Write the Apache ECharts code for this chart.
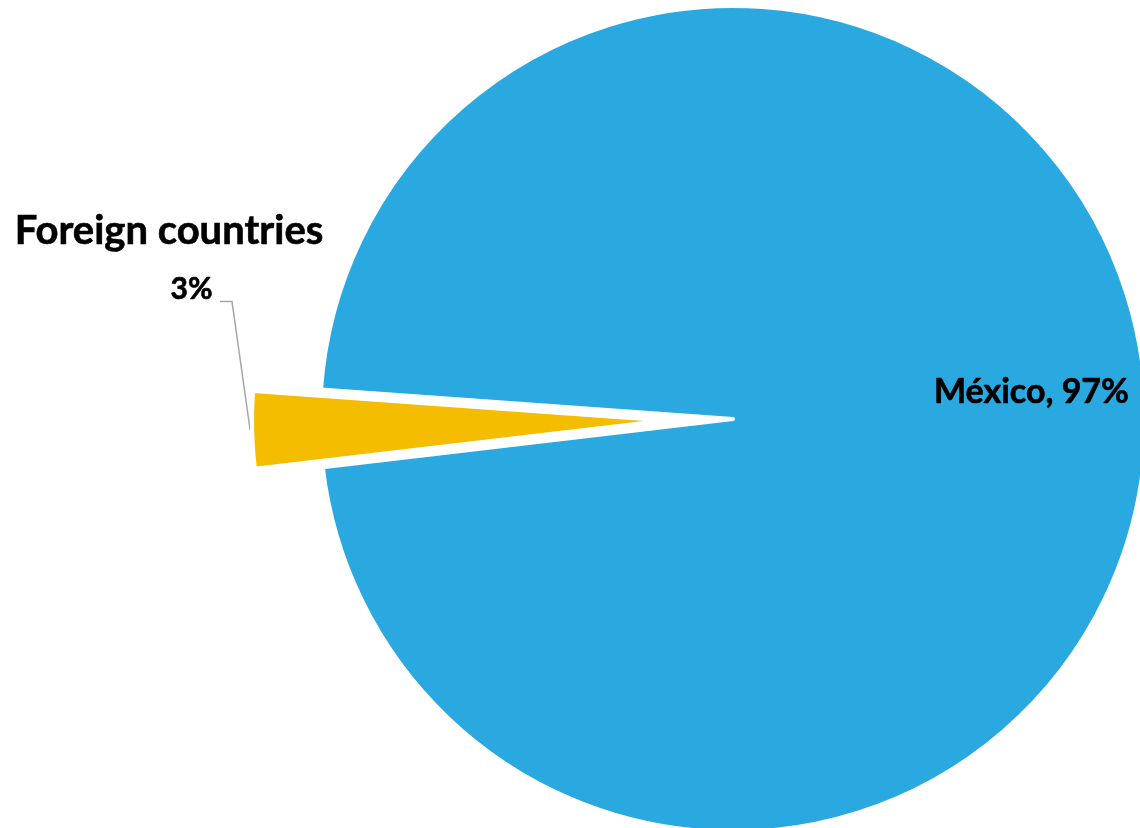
<!DOCTYPE html>
<html>
<head>
<meta charset="utf-8">
<title>Origin share</title>
<script src="https://cdn.jsdelivr.net/npm/echarts@6/dist/echarts.min.js"></script>
<style>
  html, body { margin: 0; padding: 0; background: #ffffff; }
  #chart { width: 1140px; height: 828px; }
</style>
</head>
<body>
<div id="chart"></div>
<script>
// Share by origin, in percent
const categories = ['Foreign countries', 'México'];
const shares = [3, 97];
const colors = ['#F4BD00', '#2AA9E0'];

// Layout of the pie and its labels
const CENTER = [733, 419];
const RADIUS = 413;
const START_ANGLE = 186.7;
const EXPLODE = 68;
const FOREIGN_LABEL_X = 169;
const FOREIGN_LABEL_Y = 202;
const LINE_HEIGHT = 58;
const FONT = 'Lato, "Open Sans", sans-serif';
const HIDDEN = 'rgba(0,0,0,0)';
const TEXT_WEIGHT = { color: '#000000', fontFamily: FONT, fontWeight: 'bold', textBorderColor: '#000000', textBorderWidth: 0.6 };

// The foreign slice is pulled out along its own mid angle
const total = shares.reduce((a, b) => a + b, 0);
const midDeg = START_ANGLE - (shares[0] / total) * 180;
const midRad = midDeg * Math.PI / 180;
const explodedCenter = [
  CENTER[0] + Math.cos(midRad) * EXPLODE,
  CENTER[1] - Math.sin(midRad) * EXPLODE
];
// Point just outside the rim of the pulled-out slice where its leader line starts
const rimPoint = [
  explodedCenter[0] + Math.cos(midRad) * (RADIUS + 2),
  explodedCenter[1] - Math.sin(midRad) * (RADIUS + 2)
];

const chart = echarts.init(document.getElementById('chart'), null, { renderer: 'canvas' });

function pieBase(center) {
  return {
    type: 'pie',
    center: center,
    radius: RADIUS,
    startAngle: START_ANGLE,
    clockwise: true,
    avoidLabelOverlap: false,
    silent: true,
    emphasis: { disabled: true },
    itemStyle: { borderColor: '#ffffff', borderWidth: 4 }
  };
}

const hiddenItem = (name, value) => ({
  name: name,
  value: value,
  itemStyle: { color: HIDDEN, borderWidth: 0 },
  label: { show: false },
  labelLine: { show: false }
});

// Home slice, drawn in place; the foreign slot is left empty
const homeSeries = Object.assign(pieBase(CENTER), {
  data: categories.map((name, i) => i === 1 ? {
    name: name,
    value: shares[i],
    itemStyle: { color: colors[i] },
    label: Object.assign({
      show: true,
      position: 'inside',
      formatter: '{b}, {d}%',
      fontSize: 34
    }, TEXT_WEIGHT),
    labelLine: { show: false }
  } : hiddenItem(name, shares[i])),
  labelLayout: function () {
    return { dx: 89, dy: -22.5 };
  }
});

// Foreign slice, drawn at the exploded centre
const foreignSeries = Object.assign(pieBase(explodedCenter), {
  labelLine: { minTurnAngle: 0, maxSurfaceAngle: 180 },
  data: categories.map((name, i) => i === 0 ? {
    name: name,
    value: shares[i],
    itemStyle: { color: colors[i] },
    label: {
      show: true,
      position: 'outside',
      formatter: '{n|{b}}\n{p|{d}%}',
      rich: {
        n: Object.assign({ fontSize: 40, lineHeight: LINE_HEIGHT }, TEXT_WEIGHT),
        p: Object.assign({ fontSize: 30, lineHeight: LINE_HEIGHT, padding: [0, 0, 0, 45] }, TEXT_WEIGHT)
      }
    },
    labelLine: {
      show: true,
      minTurnAngle: 0,
      maxSurfaceAngle: 180,
      lineStyle: { color: '#A6A6A6', width: 1.5 }
    }
  } : hiddenItem(name, shares[i])),
  labelLayout: function () {
    const yLine = FOREIGN_LABEL_Y + LINE_HEIGHT + 41.5;
    return {
      x: FOREIGN_LABEL_X,
      y: FOREIGN_LABEL_Y,
      align: 'center',
      verticalAlign: 'top',
      labelLinePoints: [
        rimPoint,
        [FOREIGN_LABEL_X + 63, yLine],
        [FOREIGN_LABEL_X + 51, yLine]
      ]
    };
  }
});

chart.setOption({
  animation: false,
  backgroundColor: '#ffffff',
  series: [homeSeries, foreignSeries]
});
</script>
</body>
</html>
